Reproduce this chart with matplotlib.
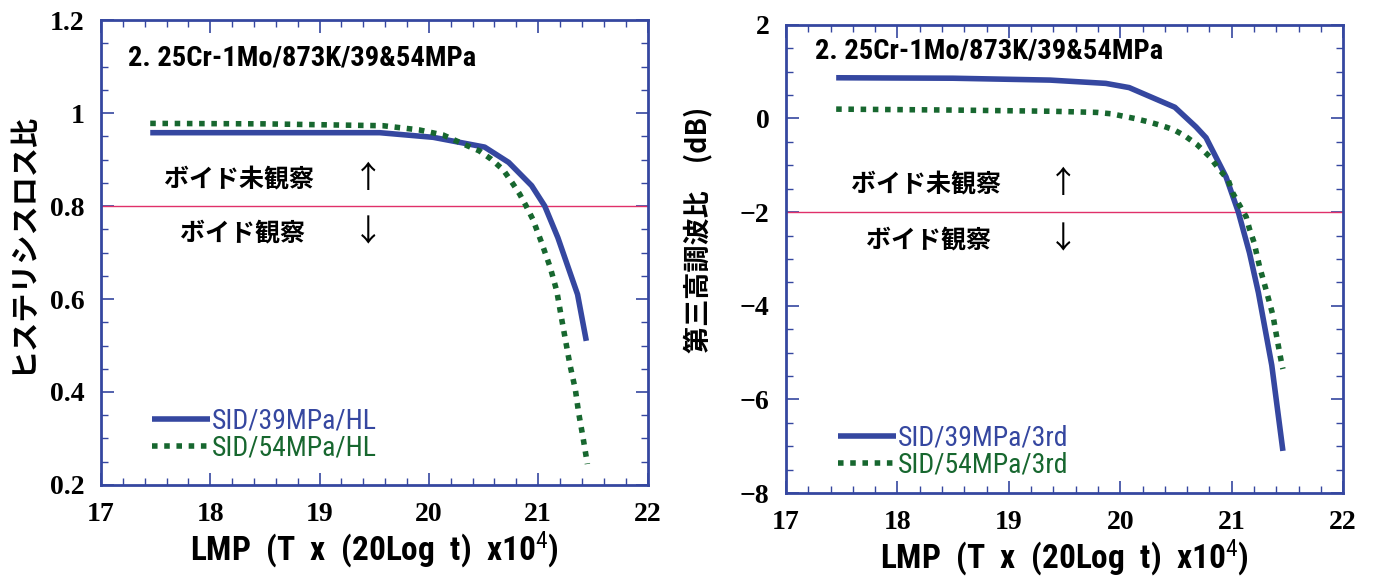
import numpy as np
import matplotlib
matplotlib.use("Agg")
import matplotlib.pyplot as plt
from matplotlib.ticker import MultipleLocator
from matplotlib import font_manager

# LMP values and measured curves
hl39_x = [17.45, 18.5, 19.55, 20.04, 20.51, 20.73, 20.94, 21.06, 21.18, 21.36, 21.44]
hl39_y = [0.958, 0.958, 0.958, 0.948, 0.927, 0.894, 0.844, 0.800, 0.732, 0.610, 0.510]
hl54_x = [17.45, 18.5, 19.58, 19.91, 20.13, 20.35, 20.46, 20.57, 20.68, 20.76, 20.83, 20.89,
          20.95, 21.03, 21.11, 21.17, 21.21, 21.25, 21.29, 21.34, 21.37, 21.41, 21.45]
hl54_y = [0.978, 0.977, 0.973, 0.964, 0.953, 0.930, 0.919, 0.901, 0.878, 0.851, 0.826, 0.800,
          0.772, 0.722, 0.668, 0.617, 0.563, 0.511, 0.459, 0.405, 0.355, 0.302, 0.245]

h3_39_x = [17.45, 18.5, 19.37, 19.87, 20.08, 20.49, 20.68, 20.77, 20.95, 21.06, 21.16, 21.24, 21.36, 21.46]
h3_39_y = [0.87, 0.86, 0.82, 0.75, 0.66, 0.24, -0.18, -0.41, -1.25, -2.0, -2.87, -3.72, -5.27, -7.1]
h3_54_x = [17.45, 18.5, 19.37, 19.79, 19.92, 20.13, 20.25, 20.37, 20.48, 20.58, 20.69, 20.80, 20.88,
           20.97, 21.01, 21.07, 21.13, 21.16, 21.20, 21.25, 21.31, 21.37, 21.41, 21.45, 21.46]
h3_54_y = [0.20, 0.18, 0.155, 0.13, 0.10, 0.0, -0.07, -0.15, -0.24, -0.37, -0.56, -0.81, -1.06,
           -1.32, -1.59, -1.85, -2.10, -2.36, -2.64, -3.16, -3.67, -4.20, -4.74, -5.25, -5.35]

hl_limit = 0.8
h3_limit = -2.0

blue = "#3547a0"
green = "#17672f"
frame = "#3547a0"
red = "#e0306a"

serif = ["Liberation Serif", "DejaVu Serif"]
jp = ["Noto Sans CJK JP", "DejaVu Sans"]


def pick_narrow():
    # look for any condensed / narrow sans face
    names = {f.name for f in font_manager.fontManager.ttflist}
    for n in ["Liberation Sans Narrow", "Roboto Condensed", "Open Sans Condensed", "DejaVu Sans Condensed"]:
        if n in names:
            return {"family": n}
    for f in font_manager.fontManager.ttflist:
        if "condensed" in str(f.stretch).lower() or "Condensed" in f.fname:
            return {"family": f.name, "stretch": "condensed"}
    return None


narrow = pick_narrow()
if narrow is None:
    narrow_kw = {"family": "DejaVu Sans"}
    shrink = 0.78
else:
    narrow_kw = narrow
    shrink = 1.0

plt.rcParams["mathtext.fontset"] = "custom"
plt.rcParams["mathtext.rm"] = narrow_kw["family"]
plt.rcParams["mathtext.default"] = "rm"

xlabel = "LMP  (T  x  (20Log  t)  x10$^{4}$)"
title = "2. 25Cr-1Mo/873K/39&54MPa"

fig = plt.figure(figsize=(13.73, 5.78), dpi=100)
ax1 = fig.add_axes([0.0736, 0.161, 0.398, 0.804])
ax2 = fig.add_axes([0.5725, 0.147, 0.4057, 0.81])


def style(ax, ylim, ymaj, ymin):
    ax.set_xlim(17, 22)
    ax.set_ylim(*ylim)
    ax.xaxis.set_major_locator(MultipleLocator(1))
    ax.xaxis.set_minor_locator(MultipleLocator(0.2))
    ax.yaxis.set_major_locator(MultipleLocator(ymaj))
    ax.yaxis.set_minor_locator(MultipleLocator(ymin))
    for s in ax.spines.values():
        s.set_color(frame)
        s.set_linewidth(2)
    ax.tick_params(which="both", direction="in", top=True, right=True, color=frame)
    ax.tick_params(which="major", length=9, width=1.2, labelsize=20)
    ax.tick_params(axis="y", which="major", pad=12)
    ax.tick_params(axis="x", which="major", pad=12)
    ax.tick_params(which="minor", length=5, width=1)
    ax.set_xlabel(xlabel, fontsize=24 * shrink, fontweight="bold", labelpad=2, **narrow_kw)


def fix_ticklabels(ax):
    for lab in ax.get_xticklabels() + ax.get_yticklabels():
        lab.set_family(serif)
        lab.set_fontweight("bold")


def add_legend(ax, colors, anchor):
    leg = ax.legend(loc="lower left", bbox_to_anchor=anchor, frameon=False, handlelength=2.1,
                    handletextpad=0.05, labelspacing=0.0, borderaxespad=0, borderpad=0,
                    prop=dict(size=20 * shrink, **narrow_kw))
    for t, c in zip(leg.get_texts(), colors):
        t.set_color(c)


# hysteresis loss ratio
style(ax1, (0.2, 1.2), 0.2, 0.05)
ax1.yaxis.set_major_formatter(plt.FuncFormatter(lambda v, p: f"{v:g}"))
fix_ticklabels(ax1)
ax1.axhline(hl_limit, color=red, lw=1)
ax1.plot(hl39_x, hl39_y, color=blue, lw=4, solid_capstyle="butt", label="SID/39MPa/HL")
ax1.plot(hl54_x, hl54_y, color=green, lw=4, ls=(0, (1, 1.2)), label="SID/54MPa/HL")
ax1.set_ylabel("ヒステリシスロス比", family=jp, fontweight="bold", fontsize=21)
ax1.yaxis.set_label_coords(-0.118, 0.52)
ax1.text(17.25, 1.119, title, fontsize=20.5 * shrink, fontweight="bold", va="center", **narrow_kw)
ax1.text(17.58, 0.858, "ボイド未観察", family=jp, fontweight="bold", fontsize=18, va="center")
ax1.text(19.3, 0.858, "↑", family=jp, fontsize=22, va="center")
ax1.text(17.72, 0.742, "ボイド観察", family=jp, fontweight="bold", fontsize=18, va="center")
ax1.text(19.3, 0.742, "↓", family=jp, fontsize=22, va="center")
add_legend(ax1, [blue, green], (0.093, 0.05))

# third harmonic ratio
style(ax2, (-8, 2), 2, 0.5)
fix_ticklabels(ax2)
ax2.axhline(h3_limit, color=red, lw=1)
ax2.plot(h3_39_x, h3_39_y, color=blue, lw=4, solid_capstyle="butt", label="SID/39MPa/3rd")
ax2.plot(h3_54_x, h3_54_y, color=green, lw=4, ls=(0, (1, 1.2)), label="SID/54MPa/3rd")
ax2.set_ylabel("第三高調波比　(dB)", family=jp, fontweight="bold", fontsize=19.5)
ax2.yaxis.set_label_coords(-0.133, 0.562)
ax2.text(17.26, 1.44, title, fontsize=20.5 * shrink, fontweight="bold", va="center", **narrow_kw)
ax2.text(17.58, -1.4, "ボイド未観察", family=jp, fontweight="bold", fontsize=18, va="center")
ax2.text(19.35, -1.4, "↑", family=jp, fontsize=22, va="center")
ax2.text(17.72, -2.6, "ボイド観察", family=jp, fontweight="bold", fontsize=18, va="center")
ax2.text(19.35, -2.6, "↓", family=jp, fontsize=22, va="center")
add_legend(ax2, [blue, green], (0.093, 0.03))

fig.savefig("out.png", dpi=100)
